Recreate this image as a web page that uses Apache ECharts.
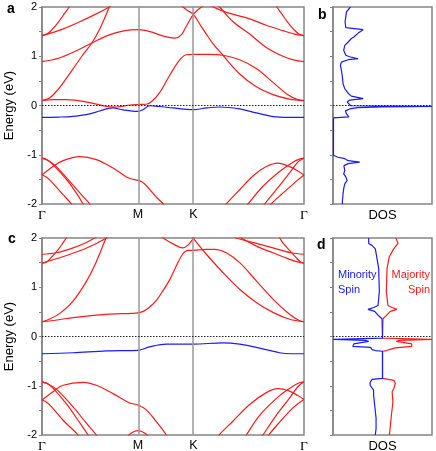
<!DOCTYPE html>
<html>
<head>
<meta charset="utf-8">
<script src="https://cdn.jsdelivr.net/npm/echarts@6/dist/echarts.min.js"></script>
<style>
  html, body { margin: 0; padding: 0; background: #fff; }
  #chart { width: 436px; height: 451px; }
</style>
</head>
<body>
<div id="chart"></div>
<script>
const RED = "#ff1a1a";
const BLUE = "#1a1aff";
const FRAME = "#858585";
const FONT = '"Liberation Sans", Arial, Helvetica, sans-serif';

// high-symmetry path
const kPoints = [0, 0.578, 0.911, 1.577];
const kLabels = ["Γ", "M", "K", "Γ"];

// ---- panel a: bands (k, E) ----
const aMaj1 = [[0,0.1],[0.045,0.15],[0.09,0.3],[0.14,0.52],[0.19,0.76],[0.24,1.0],[0.3,1.27],[0.35,1.57],[0.405,2.0],[0.44,2.3]];
const aMaj2 = [[0,1.42],[0.107,1.53],[0.227,1.7],[0.327,1.86],[0.405,2.0],[0.45,2.1]];
const aMaj3 = [[0,1.42],[0.03,1.45],[0.06,1.54],[0.1,1.7],[0.136,1.87],[0.163,2.0],[0.18,2.1]];
const aMaj4 = [[0,0.89],[0.1,0.96],[0.2,1.1],[0.3,1.27],[0.4,1.43],[0.5,1.52],[0.578,1.54],[0.65,1.5],[0.73,1.41],[0.8,1.37],[0.84,1.44],[0.87,1.62],[0.911,1.85],[0.94,1.95],[0.97,2.02]];
const aMaj5 = [[0,0.1],[0.07,0.12],[0.147,0.12],[0.287,0.06],[0.387,-0.02],[0.447,-0.03],[0.53,0.01],[0.578,0.02],[0.628,0.025],[0.66,0.08],[0.708,0.26],[0.768,0.61],[0.828,0.92],[0.868,1.03],[0.911,1.04],[1.0,1.04],[1.089,1.02],[1.19,0.93],[1.29,0.75],[1.39,0.47],[1.48,0.22],[1.54,0.12],[1.577,0.1]];
const aMaj6 = [[0.82,2.08],[0.848,2.0],[0.88,1.92],[0.911,1.85],[0.95,1.65],[0.989,1.45],[1.03,1.25],[1.089,1.02],[1.19,0.64],[1.29,0.38],[1.39,0.22],[1.49,0.13],[1.577,0.1]];
const aMaj7 = [[0.99,2.06],[1.03,2.0],[1.12,1.88],[1.25,1.76],[1.35,1.63],[1.45,1.52],[1.52,1.45],[1.577,1.42]];
const aMaj8 = [[1.04,2.12],[1.069,2.0],[1.15,1.7],[1.25,1.45],[1.35,1.18],[1.45,1.0],[1.52,0.92],[1.577,0.89]];
const aMaj9 = [[1.397,2.1],[1.414,2.0],[1.441,1.87],[1.477,1.7],[1.517,1.54],[1.547,1.45],[1.577,1.42]];
const aMaj10 = [[0,-1.41],[0.066,-1.24],[0.127,-1.12],[0.227,-1.04],[0.327,-1.1],[0.427,-1.27],[0.508,-1.45],[0.55,-1.5],[0.578,-1.52],[0.6,-1.55],[0.626,-1.62],[0.688,-1.86],[0.73,-2.0],[0.75,-2.1]];
const aMaj11 = [[0,-1.07],[0.03,-1.1],[0.066,-1.2],[0.147,-1.5],[0.207,-1.78],[0.247,-2.0],[0.26,-2.1]];
const aMaj12 = [[0,-1.07],[0.04,-1.12],[0.086,-1.24],[0.167,-1.54],[0.237,-1.81],[0.287,-2.0],[0.3,-2.1]];
const aMaj13 = [[0,-1.41],[0.03,-1.46],[0.066,-1.58],[0.127,-1.81],[0.177,-2.0],[0.19,-2.1]];
const aMaj14 = [[1.09,-2.1],[1.109,-2.0],[1.19,-1.71],[1.27,-1.43],[1.35,-1.24],[1.42,-1.17],[1.49,-1.24],[1.54,-1.33],[1.577,-1.41]];
const aMaj15 = [[1.22,-2.1],[1.24,-2.0],[1.33,-1.64],[1.43,-1.34],[1.51,-1.15],[1.55,-1.09],[1.577,-1.07]];
const aMaj16 = [[1.32,-2.1],[1.34,-2.0],[1.41,-1.71],[1.49,-1.37],[1.54,-1.15],[1.577,-1.07]];
const aMaj17 = [[1.37,-2.1],[1.38,-2.0],[1.45,-1.78],[1.53,-1.54],[1.577,-1.41]];
const aMin1 = [[0,-0.24],[0.1,-0.235],[0.187,-0.22],[0.287,-0.17],[0.387,-0.07],[0.427,-0.05],[0.487,-0.09],[0.578,-0.12],[0.608,-0.085],[0.648,-0.005],[0.708,-0.02],[0.788,-0.05],[0.911,-0.085],[0.99,-0.05],[1.069,-0.03],[1.19,-0.07],[1.29,-0.15],[1.39,-0.225],[1.48,-0.24],[1.577,-0.24]];

// ---- panel c: bands (k, E) ----
const cMaj1 = [[0,0.3],[0.05,0.36],[0.107,0.47],[0.187,0.72],[0.267,1.12],[0.327,1.52],[0.385,2.0],[0.41,2.2]];
const cMaj2 = [[0,0.3],[0.1,0.34],[0.187,0.385],[0.387,0.45],[0.54,0.47],[0.578,0.48],[0.61,0.51],[0.648,0.6],[0.69,0.74],[0.728,0.93],[0.77,1.16],[0.808,1.43],[0.848,1.68],[0.88,1.75],[0.911,1.75],[0.989,1.77],[1.039,1.77],[1.109,1.7],[1.19,1.5],[1.29,1.13],[1.39,0.76],[1.49,0.45],[1.545,0.33],[1.577,0.3]];
const cMaj3 = [[0.89,2.1],[0.911,1.99],[0.989,1.67],[1.089,1.3],[1.19,0.96],[1.29,0.69],[1.39,0.49],[1.49,0.35],[1.577,0.3]];
const cMaj4 = [[0.7,2.08],[0.728,2.0],[0.8,1.86],[0.848,1.8],[0.88,1.86],[0.911,1.99],[0.93,2.1]];
const cMaj5 = [[0,1.49],[0.107,1.6],[0.227,1.74],[0.327,1.89],[0.387,2.0],[0.42,2.08]];
const cMaj6 = [[0,1.49],[0.03,1.52],[0.06,1.62],[0.096,1.76],[0.13,1.92],[0.146,2.0],[0.16,2.08]];
const cMaj7 = [[0,1.67],[0.086,1.7],[0.187,1.8],[0.267,1.91],[0.317,2.0],[0.34,2.05]];
const cMaj8 = [[1.14,2.06],[1.17,2.0],[1.28,1.9],[1.39,1.8],[1.5,1.7],[1.577,1.67]];
const cMaj9 = [[1.17,2.08],[1.2,2.0],[1.3,1.82],[1.39,1.7],[1.45,1.62],[1.52,1.53],[1.577,1.49]];
const cMaj10 = [[1.41,2.08],[1.431,2.0],[1.45,1.9],[1.49,1.75],[1.53,1.6],[1.555,1.52],[1.577,1.49]];
const cMaj11 = [[0,-1.29],[0.066,-1.12],[0.127,-0.99],[0.247,-0.93],[0.327,-0.99],[0.427,-1.16],[0.528,-1.35],[0.578,-1.39],[0.628,-1.49],[0.688,-1.73],[0.748,-2.0],[0.76,-2.1]];
const cMaj12 = [[0,-0.92],[0.03,-0.95],[0.066,-1.05],[0.147,-1.37],[0.217,-1.7],[0.277,-2.0],[0.29,-2.1]];
const cMaj13 = [[0,-0.92],[0.04,-0.97],[0.096,-1.1],[0.187,-1.43],[0.267,-1.76],[0.327,-2.0],[0.34,-2.1]];
const cMaj14 = [[0,-1.29],[0.03,-1.34],[0.066,-1.46],[0.127,-1.7],[0.217,-2.0],[0.23,-2.1]];
const cMaj15 = [[0.5,-2.1],[0.53,-1.98],[0.555,-1.93],[0.578,-1.91],[0.6,-1.93],[0.625,-1.98],[0.655,-2.1]];
const cMaj16 = [[1.05,-2.1],[1.069,-1.99],[1.149,-1.72],[1.25,-1.38],[1.35,-1.14],[1.42,-1.06],[1.49,-1.11],[1.54,-1.2],[1.577,-1.28]];
const cMaj17 = [[1.21,-2.1],[1.23,-2.0],[1.31,-1.6],[1.43,-1.2],[1.51,-1.01],[1.55,-0.94],[1.577,-0.92]];
const cMaj18 = [[1.31,-2.1],[1.33,-2.0],[1.41,-1.6],[1.49,-1.25],[1.54,-1.02],[1.577,-0.92]];
const cMaj19 = [[1.35,-2.1],[1.365,-2.0],[1.43,-1.74],[1.51,-1.45],[1.55,-1.34],[1.577,-1.28]];
const cMin1 = [[0,-0.35],[0.187,-0.33],[0.387,-0.29],[0.578,-0.28],[0.648,-0.21],[0.748,-0.155],[0.911,-0.155],[1.089,-0.13],[1.19,-0.155],[1.29,-0.22],[1.43,-0.33],[1.5,-0.35],[1.577,-0.35]];

// ---- panel b: DOS (dos, E) ----
const dosB = [[1.76,2.0],[1.63,1.97],[1.36,1.9],[1.29,1.8],[1.22,1.7],[1.29,1.58],[3.05,1.54],[2.54,1.47],[2.1,1.39],[1.86,1.36],[1.53,1.29],[1.19,1.22],[1.08,1.12],[1.29,1.02],[1.69,0.99],[2.54,0.95],[1.53,0.93],[0.85,0.88],[0.75,0.82],[0.85,0.71],[0.95,0.58],[1.02,0.44],[1.19,0.34],[1.53,0.25],[1.86,0.19],[3.05,0.14],[1.69,0.11],[1.43,0.07],[1.6,0.03],[1.8,-0.005],[10,-0.018],[5,-0.028],[2.5,-0.045],[1.7,-0.07],[1.25,-0.11],[1.36,-0.17],[1.6,-0.23],[0.05,-0.25],[0.05,-1.01],[0.5,-1.05],[1.19,-1.08],[1.53,-1.12],[2.7,-1.15],[1.53,-1.18],[1.1,-1.22],[0.95,-1.25],[1.19,-1.32],[1.08,-1.39],[1.29,-1.45],[1.43,-1.52],[1.19,-1.59],[1.08,-1.69],[1.02,-1.79],[0.95,-1.93],[0.95,-2.0]];

// ---- panel d: spin-resolved DOS (dos, E); minority plotted negative ----
const dosMinority = [[-2.79,2.0],[-2.79,1.89],[-2.12,1.85],[-1.45,1.78],[-1.31,1.7],[-1.11,1.58],[-0.77,1.38],[-0.64,0.91],[-0.91,0.63],[-1.78,0.59],[-2.93,0.55],[-1.58,0.51],[-0.77,0.42],[-0.1,0.36],[0,0.34],[0,-0.035],[-10,-0.06],[-3.5,-0.08],[-2.8,-0.1],[-2.9,-0.12],[-5.8,-0.15],[-6.0,-0.2],[-2.4,-0.22],[-2.1,-0.265],[-1.4,-0.285],[0,-0.3],[0,-0.85],[-2.1,-0.87],[-2.5,-0.93],[-2.5,-0.99],[-1.8,-1.09],[-1.8,-1.19],[-1.58,-1.39],[-1.3,-1.66],[-1.3,-1.87],[-1.45,-2.0]];
const dosMajority = [[2.73,2.0],[3.13,1.89],[2.26,1.78],[1.38,1.62],[0.91,1.38],[0.77,0.91],[1.11,0.63],[1.92,0.59],[2.93,0.55],[1.58,0.51],[0.71,0.42],[0.1,0.36],[0,0.34],[0,-0.035],[10,-0.06],[3.5,-0.08],[2.8,-0.1],[3.2,-0.12],[5.9,-0.15],[5.9,-0.2],[2.6,-0.23],[1.4,-0.265],[0.8,-0.285],[0,-0.3],[0,-0.85],[2.3,-0.89],[2.6,-0.95],[2.3,-1.05],[1.95,-1.12],[2.1,-1.33],[1.8,-1.6],[1.6,-1.8],[1.4,-2.0]];

const bandsA = [aMaj1,aMaj2,aMaj3,aMaj4,aMaj5,aMaj6,aMaj7,aMaj8,aMaj9,aMaj10,aMaj11,aMaj12,aMaj13,aMaj14,aMaj15,aMaj16,aMaj17];
const bandsC = [cMaj1,cMaj2,cMaj3,cMaj4,cMaj5,cMaj6,cMaj7,cMaj8,cMaj9,cMaj10,cMaj11,cMaj12,cMaj13,cMaj14,cMaj15,cMaj16,cMaj17,cMaj18,cMaj19];

const chart = echarts.init(document.getElementById("chart"), null, { renderer: "canvas" });

function bandLine(data, idx, color) {
  return {
    type: "line", xAxisIndex: idx, yAxisIndex: idx, data,
    smooth: 0.35, symbol: "none", silent: true, clip: true, z: 3,
    lineStyle: { color, width: 1.2 },
  };
}

function guides(idx, withK) {
  const lines = [{ yAxis: 0, lineStyle: { color: "#222", width: 1, type: [1.5, 1.5] } }];
  if (withK) {
    lines.unshift(
      { xAxis: kPoints[1], lineStyle: { color: "#999", width: 1.5, type: "solid" } },
      { xAxis: kPoints[2], lineStyle: { color: "#999", width: 1.5, type: "solid" } }
    );
  }
  return {
    type: "line", xAxisIndex: idx, yAxisIndex: idx, data: [], z: 2,
    markLine: { silent: true, symbol: "none", label: { show: false }, animation: false, data: lines },
  };
}

const grids = [
  { left: 42, top: 7, width: 262, height: 197 },
  { left: 333, top: 7, width: 99, height: 197 },
  { left: 42, top: 238, width: 262, height: 197 },
  { left: 333, top: 238, width: 99, height: 197 },
].map((g) => ({ ...g, show: true, borderColor: FRAME, borderWidth: 1.5, backgroundColor: "transparent", containLabel: false, outerBoundsMode: "none" }));

function kAxis(idx) {
  return {
    gridIndex: idx, type: "value", min: 0, max: kPoints[3],
    axisLine: { show: false, onZero: false }, axisTick: { show: false }, splitLine: { show: false },
    axisLabel: {
      customValues: kPoints, margin: 4, fontSize: 12.5, color: "#000", fontFamily: FONT,
      formatter: (v) => {
        const s = kLabels[kPoints.indexOf(v)] || "";
        return s === "Γ" ? "{g|Γ}" : s;
      },
      rich: { g: { fontFamily: '"Liberation Serif", "DejaVu Serif", serif', fontSize: 13.5, color: "#000" } },
    },
  };
}

function dosAxis(idx, lo) {
  return {
    gridIndex: idx, type: "value", min: lo, max: 10,
    axisLine: { show: false, onZero: false }, axisTick: { show: false }, splitLine: { show: false }, axisLabel: { show: false },
    name: "DOS", nameLocation: "middle", nameGap: 5,
    nameTextStyle: { fontSize: 13, color: "#000", fontFamily: FONT, verticalAlign: "top" },
  };
}

function eAxis(idx, labelled) {
  const ax = {
    gridIndex: idx, type: "value", min: -2, max: 2, interval: 0.5,
    axisLine: { show: true, onZero: false, lineStyle: { color: FRAME, width: 1.5 } },
    axisTick: { show: true, length: 3, lineStyle: { color: FRAME, width: 1 } },
    splitLine: { show: false },
    axisLabel: {
      show: labelled, margin: 5, fontSize: 11, color: "#000", fontFamily: FONT,
      formatter: (v) => (Number.isInteger(v) ? String(v) : ""),
    },
  };
  if (labelled) {
    Object.assign(ax, {
      name: "Energy (eV)", nameLocation: "middle", nameGap: 24,
      nameTextStyle: { fontSize: 13, color: "#000", fontFamily: FONT },
    });
  }
  return ax;
}

const series = [
  guides(0, true), guides(1, false), guides(2, true), guides(3, false),
  ...bandsA.map((b) => bandLine(b, 0, RED)),
  bandLine(aMin1, 0, BLUE),
  ...bandsC.map((b) => bandLine(b, 2, RED)),
  bandLine(cMin1, 2, BLUE),
  { type: "line", xAxisIndex: 1, yAxisIndex: 1, data: dosB, symbol: "none", silent: true, z: 3, lineStyle: { color: BLUE, width: 1.2 } },
  { type: "line", xAxisIndex: 3, yAxisIndex: 3, data: dosMajority, symbol: "none", silent: true, z: 3, lineStyle: { color: RED, width: 1.2 } },
  { type: "line", xAxisIndex: 3, yAxisIndex: 3, data: dosMinority, symbol: "none", silent: true, z: 4, lineStyle: { color: BLUE, width: 1.2 } },
];

const letter = (t, x, y) => ({ type: "text", left: x, top: y, style: { text: t, font: "bold 14px " + FONT, fill: "#000" } });
const note = (t, x, y, color, align) => ({
  type: "text", x, y, style: { text: t, font: "11px " + FONT, fill: color, align, verticalAlign: "top" },
});

chart.setOption({
  animation: false,
  textStyle: { fontFamily: FONT },
  grid: grids,
  xAxis: [kAxis(0), dosAxis(1, 0), kAxis(2), dosAxis(3, -10)],
  yAxis: [eAxis(0, true), eAxis(1, false), eAxis(2, true), eAxis(3, false)],
  series,
  graphic: [
    letter("a", 7, 2), letter("b", 318, 8), letter("c", 8, 232), letter("d", 317, 238),
    note("Minority", 338, 269, BLUE, "left"), note("Spin", 338, 284, BLUE, "left"),
    note("Majority", 430, 269, RED, "right"), note("Spin", 430, 284, RED, "right"),
  ],
});
</script>
</body>
</html>
